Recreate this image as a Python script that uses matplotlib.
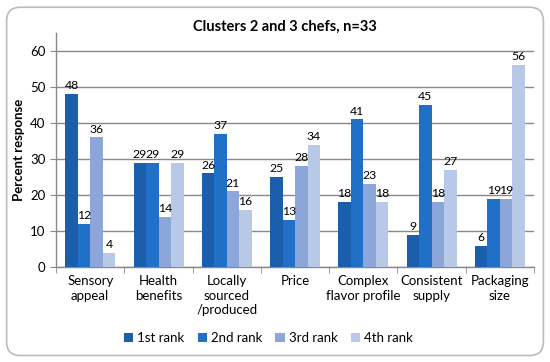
import matplotlib.pyplot as plt
import numpy as np
from matplotlib.patches import FancyBboxPatch

# --- Data ---
categories = ["Sensory\nappeal", "Health\nbenefits", "Locally\nsourced\n/produced", "Price",
              "Complex\nflavor profile", "Consistent\nsupply", "Packaging\nsize"]
series_names = ["1st rank", "2nd rank", "3rd rank", "4th rank"]
rank1 = [48, 29, 26, 25, 18, 9, 6]
rank2 = [12, 29, 37, 13, 41, 45, 19]
rank3 = [36, 14, 21, 28, 23, 18, 19]
rank4 = [4, 29, 16, 34, 18, 27, 56]
colors = ["#1B5EAB", "#1F70C6", "#8CA6DA", "#B8C9E8"]

plt.rcParams['font.family'] = ['Lato', 'DejaVu Sans']

fig = plt.figure(figsize=(5.5, 3.62), dpi=100)
ax = fig.add_axes([0.102, 0.262, 0.869, 0.647])

# rounded frame around the whole chart
frame = FancyBboxPatch((0.012, 0.018), 0.976, 0.962, boxstyle="round,pad=0,rounding_size=0.025",
                       transform=fig.transFigure, facecolor="none", edgecolor="#BBBBBB",
                       linewidth=1.2, mutation_aspect=550/362)
fig.patches.append(frame)

x = np.arange(len(categories))
w = 0.183
all_series = [rank1, rank2, rank3, rank4]
for k, vals in enumerate(all_series):
    pos = x + (k - 1.5) * w
    ax.bar(pos, vals, width=w, color=colors[k], label=series_names[k], zorder=3)
    for xp, v in zip(pos, vals):
        ax.text(xp, v + 0.8, str(v), ha="center", va="bottom", fontsize=8.8, zorder=4)

ax.set_xlim(-0.5, len(categories) - 0.5)
ax.set_ylim(0, 65)
ax.set_yticks(range(0, 61, 10))
ax.yaxis.grid(True, color="#888888", linewidth=1, zorder=0)
ax.set_axisbelow(True)

ax.set_xticks(x)
ax.set_xticklabels(categories, fontsize=9.5, linespacing=1.25)
ax.set_xticks(np.arange(-0.5, len(categories), 1), minor=True)
ax.tick_params(axis="x", which="major", length=0, pad=6)
ax.tick_params(axis="x", which="minor", length=4, color="#888888", direction="out")
ax.tick_params(axis="y", length=4, color="#888888", labelsize=9.5)

for s in ["top", "right"]:
    ax.spines[s].set_visible(False)
for s in ["left", "bottom"]:
    ax.spines[s].set_color("#888888")
    ax.spines[s].set_linewidth(1)

ax.set_ylabel("Percent response", fontsize=9.5, fontweight="bold", labelpad=4)
fig.text(0.518, 0.925, "Clusters 2 and 3 chefs, n=33", ha="center", va="center",
         fontsize=10.5, fontweight="bold")

fig.legend(loc="center", bbox_to_anchor=(0.488, 0.066), ncol=4, frameon=False,
           fontsize=9.5, handlelength=0.7, handleheight=0.7, handletextpad=0.3,
           columnspacing=1.0)

fig.savefig("out.png", dpi=100)
